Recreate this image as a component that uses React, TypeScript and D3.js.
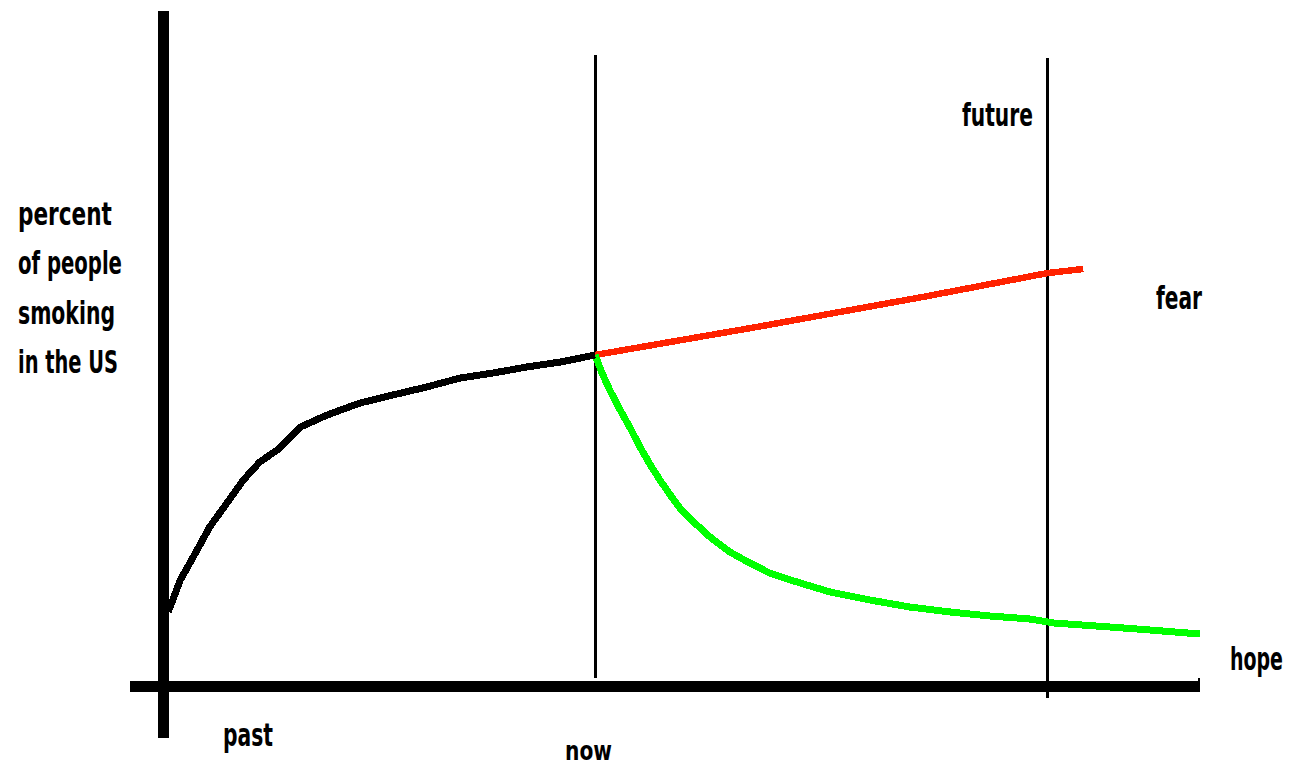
import React, { useLayoutEffect, useRef, useState } from 'react';
import * as d3 from 'd3';

// time runs 0 (past) .. 120 (right end of the axis); "now" = 50
const pastSeries: [number, number][] = [
  [0.6, 7.4], [2.0, 10.6], [3.5, 12.9], [5.4, 15.9], [7.4, 18.3], [9.3, 20.6],
  [11.2, 22.4], [13.2, 23.6], [15.9, 25.9], [19.0, 27.1], [22.8, 28.3], [26.6, 29.1],
  [30.5, 29.9], [34.4, 30.8], [38.2, 31.3], [42.1, 31.9], [46.0, 32.4], [50, 33.1],
];
const fearSeries: [number, number][] = [
  [50, 33.1], [68.7, 35.9], [87.9, 38.9], [102.4, 41.3], [106.5, 41.7],
];
const hopeSeries: [number, number][] = [
  [50, 33.1], [50.8, 31.3], [51.7, 29.6], [52.9, 27.6], [54.0, 25.9], [55.2, 23.9],
  [56.4, 22.1], [57.5, 20.6], [58.7, 19.1], [59.8, 17.8], [61.4, 16.4], [63.3, 14.9],
  [65.6, 13.4], [67.9, 12.3], [70.2, 11.3], [72.6, 10.6], [77.2, 9.4], [81.8, 8.6],
  [86.4, 7.9], [91.1, 7.4], [95.7, 7.0], [100.3, 6.7], [103.1, 6.3], [109.6, 5.9],
  [114.2, 5.6], [120, 5.2],
];
const markerTimes = { now: 50, future: 102.4 };
const yLabelLines = ['percent', 'of people', 'smoking', 'in the US'];

const width = 1291;
const height = 768;
const font = '"DejaVu Sans Condensed", "DejaVu Sans", sans-serif';

// text squeezed horizontally to a target width (the original lettering is very narrow)
function Label(props: { text: string; x: number; y: number; w: number; size?: number }) {
  const ref = useRef<SVGTextElement>(null);
  const [sx, setSx] = useState(1);
  useLayoutEffect(() => {
    if (ref.current) {
      const natural = ref.current.getComputedTextLength();
      if (natural > 0) setSx(props.w / natural);
    }
  }, [props.text, props.w]);
  return (
    <text
      ref={ref}
      transform={`translate(${props.x},${props.y}) scale(${sx},1)`}
      fontFamily={font}
      fontWeight="bold"
      fontSize={props.size || 32}
      fill="#000"
    >
      {props.text}
    </text>
  );
}

export default function App() {
  const x = d3.scaleLinear().domain([0, 120]).range([163, 1200]);
  const y = d3.scaleLinear().domain([0, 50]).range([686, 186]);

  const line = d3.line<[number, number]>()
    .x(d => x(d[0]))
    .y(d => y(d[1]))
    .curve(d3.curveLinear);

  const x0 = x(0);
  const y0 = y(0);

  const yLabelWidths = [94, 104, 97, 100];

  return (
    <svg
      width={width}
      height={height}
      style={{ position: 'absolute', left: 0, top: 0, display: 'block', background: '#fff' }}
    >
      {/* marker lines */}
      <line x1={x(markerTimes.now)} x2={x(markerTimes.now)} y1={55} y2={678}
        stroke="#000" strokeWidth={3} shapeRendering="crispEdges" />
      <line x1={x(markerTimes.future)} x2={x(markerTimes.future)} y1={58} y2={698}
        stroke="#000" strokeWidth={3} shapeRendering="crispEdges" />

      {/* axes */}
      <line x1={130} x2={1200} y1={y0} y2={y0} stroke="#000" strokeWidth={11} shapeRendering="crispEdges" />
      <line x1={1199} x2={1199} y1={y0 - 8} y2={y0 + 6} stroke="#000" strokeWidth={2} shapeRendering="crispEdges" />
      <line x1={x0} x2={x0} y1={11} y2={738} stroke="#000" strokeWidth={11} shapeRendering="crispEdges" />

      {/* curves */}
      <path d={line(fearSeries) || ''} fill="none" stroke="#ff2200" strokeWidth={6.5} shapeRendering="crispEdges" />
      <path d={line(hopeSeries) || ''} fill="none" stroke="#00ff00" strokeWidth={7} shapeRendering="crispEdges" />
      <path d={line(pastSeries) || ''} fill="none" stroke="#000" strokeWidth={7} shapeRendering="crispEdges" />

      {/* y label */}
      {yLabelLines.map((t, i) => (
        <Label key={t} text={t} x={18} y={225 + i * 49.3} w={yLabelWidths[i]} />
      ))}

      {/* other labels */}
      <Label text="past" x={223} y={746} w={50} />
      <Label text="now" x={565} y={760} w={47} size={27} />
      <Label text="future" x={962} y={126} w={71} />
      <Label text="fear" x={1156} y={309} w={46} />
      <Label text="hope" x={1230} y={670} w={53} />
    </svg>
  );
}
